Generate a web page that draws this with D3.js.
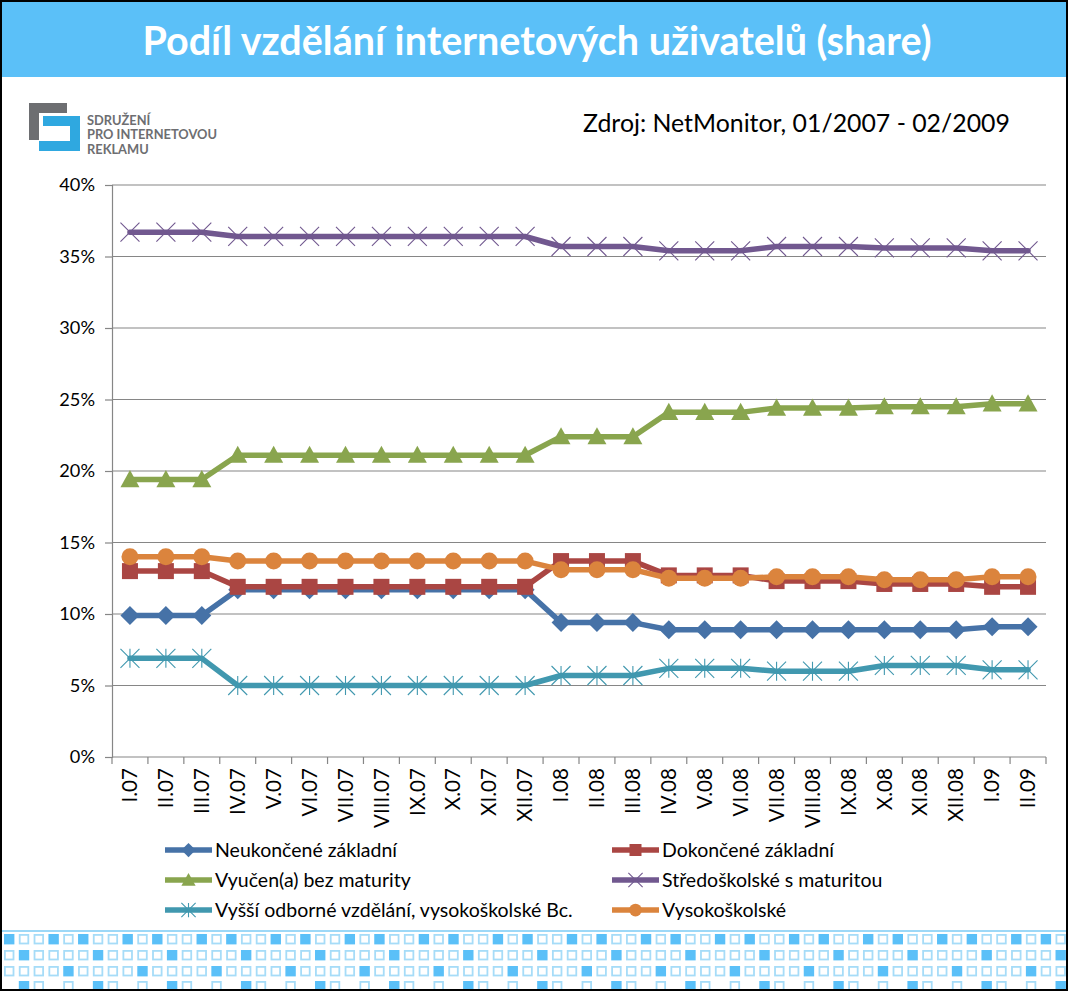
<!DOCTYPE html>
<html><head><meta charset="utf-8">
<script src="https://cdn.jsdelivr.net/npm/d3@7"></script>
<style>body{margin:0;background:#fff}svg{display:block}</style>
</head><body>
<script>
// ---------- DATA ----------
const categories = ["I.07","II.07","III.07","IV.07","V.07","VI.07","VII.07","VIII.07","IX.07","X.07","XI.07","XII.07",
  "I.08","II.08","III.08","IV.08","V.08","VI.08","VII.08","VIII.08","IX.08","X.08","XI.08","XII.08","I.09","II.09"];
const seriesNames = ["Neukončené základní","Dokončené základní","Vyučen(a) bez maturity",
  "Středoškolské s maturitou","Vyšší odborné vzdělání, vysokoškolské Bc.","Vysokoškolské"];
const neukoncene   = [9.9,9.9,9.9,11.7,11.7,11.7,11.7,11.7,11.7,11.7,11.7,11.7,9.4,9.4,9.4,8.9,8.9,8.9,8.9,8.9,8.9,8.9,8.9,8.9,9.1,9.1];
const dokoncene    = [13.0,13.0,13.0,11.9,11.9,11.9,11.9,11.9,11.9,11.9,11.9,11.9,13.7,13.7,13.7,12.7,12.7,12.7,12.3,12.3,12.3,12.1,12.1,12.1,11.9,11.9];
const vyucen       = [19.4,19.4,19.4,21.1,21.1,21.1,21.1,21.1,21.1,21.1,21.1,21.1,22.4,22.4,22.4,24.1,24.1,24.1,24.4,24.4,24.4,24.5,24.5,24.5,24.7,24.7];
const stredoskolske= [36.7,36.7,36.7,36.4,36.4,36.4,36.4,36.4,36.4,36.4,36.4,36.4,35.7,35.7,35.7,35.4,35.4,35.4,35.7,35.7,35.7,35.6,35.6,35.6,35.4,35.4];
const vyssiOdborne = [6.9,6.9,6.9,5.0,5.0,5.0,5.0,5.0,5.0,5.0,5.0,5.0,5.7,5.7,5.7,6.2,6.2,6.2,6.0,6.0,6.0,6.4,6.4,6.4,6.1,6.1];
const vysokoskolske= [14.0,14.0,14.0,13.7,13.7,13.7,13.7,13.7,13.7,13.7,13.7,13.7,13.1,13.1,13.1,12.5,12.5,12.5,12.6,12.6,12.6,12.4,12.4,12.4,12.6,12.6];
const yTicks = [0,5,10,15,20,25,30,35,40];
const titleText = "Podíl vzdělání internetových uživatelů (share)";
const sourceText = "Zdroj: NetMonitor, 01/2007 - 02/2009";
const logoLines = ["SDRUŽENÍ","PRO INTERNETOVOU","REKLAMU"];

const seriesValues = [neukoncene, dokoncene, vyucen, stredoskolske, vyssiOdborne, vysokoskolske];
const colors = ["#4672A7","#AA4643","#89A54E","#71588F","#4198AF","#DB843D"];
const markerTypes = ["diamond","square","triangle","x","star","circle"];

// ---------- SETUP ----------
const W = 1068, H = 991;
const FONT = "Lato, 'Open Sans', sans-serif";
const svg = d3.select("body").append("svg").attr("width", W).attr("height", H);
svg.append("rect").attr("width", W).attr("height", H).attr("fill", "#fff");

function fit(sel, target) {
  const w = sel.node().getComputedTextLength();
  const fs = parseFloat(sel.attr("font-size"));
  sel.attr("font-size", (fs * target / w).toFixed(2));
}

// Title bar
svg.append("rect").attr("x", 2).attr("y", 2).attr("width", 1064).attr("height", 75).attr("fill", "#5BC0F8");
const title = svg.append("text").attr("x", 537).attr("y", 55).attr("text-anchor", "middle")
  .attr("font-family", FONT).attr("font-weight", 700).attr("font-size", 36).attr("fill", "#fff").text(titleText);
fit(title, 789);

// Logo
const logo = svg.append("g");
logo.append("path").attr("d", "M29,103H67V113H39V140H29Z").attr("fill", "#6D6E71");
logo.append("path").attr("d", "M43,116H80V151H39V141H70V126H43Z").attr("fill", "#2FA8E0");
logoLines.forEach((t, i) => {
  logo.append("text").attr("x", 87).attr("y", 125 + i * 14.3).attr("font-family", FONT)
    .attr("font-weight", 700).attr("font-size", 12).attr("fill", "#6D6E71").text(t);
});
const logoRef = logo.selectAll("text").filter((d, i) => i === 1);
fit(logoRef, 130);
logo.selectAll("text").attr("font-size", logoRef.attr("font-size"));

// Source
const src = svg.append("text").attr("x", 583).attr("y", 132).attr("font-family", FONT)
  .attr("font-size", 24).attr("fill", "#000").text(sourceText);
fit(src, 427);

// ---------- CHART ----------
const x = d3.scaleBand().domain(categories).range([112, 1046]).paddingInner(0).paddingOuter(0);
const y = d3.scaleLinear().domain([0, 40]).range([757, 185]);
const cx = c => x(c) + x.bandwidth() / 2;
const gridColor = "#868686";

// gridlines
svg.append("g").selectAll("line").data(yTicks).join("line")
  .attr("x1", 112).attr("x2", 1046).attr("y1", d => y(d)).attr("y2", d => y(d))
  .attr("stroke", gridColor).attr("stroke-width", 1.2);

// y axis
const yAxis = svg.append("g").attr("transform", "translate(112,0)")
  .call(d3.axisLeft(y).tickValues(yTicks).tickSize(7).tickPadding(10).tickFormat(d => d + "%"));
yAxis.select(".domain").attr("stroke", gridColor).attr("stroke-width", 1.2);
yAxis.selectAll(".tick line").attr("stroke", gridColor).attr("stroke-width", 1.2);
yAxis.selectAll("text").attr("font-family", FONT).attr("font-size", 18).attr("fill", "#000");
const yl = yAxis.selectAll("text").filter(d => d === 40);
const yfs = (18 * 35.7 / yl.node().getComputedTextLength()).toFixed(2);
yAxis.selectAll("text").attr("font-size", yfs);

// x axis
const xAxisG = svg.append("g").attr("transform", "translate(0,757)")
  .call(d3.axisBottom(x).tickSize(0).tickPadding(0));
xAxisG.select(".domain").remove();
const bounds = categories.map(c => x(c)).concat([1046]);
svg.append("g").selectAll("line").data(bounds).join("line")
  .attr("x1", d => d).attr("x2", d => d).attr("y1", 757).attr("y2", 764)
  .attr("stroke", gridColor).attr("stroke-width", 1.2);
xAxisG.selectAll(".tick text")
  .attr("font-family", FONT).attr("font-size", 18).attr("fill", "#000")
  .attr("text-anchor", "end").attr("dy", "0.35em").attr("y", 0).attr("x", 0)
  .attr("transform", "translate(0,11) rotate(-90)");
const xl = xAxisG.selectAll(".tick text").filter(d => d === "VIII.07");
const xfs = (18 * 60 / xl.node().getComputedTextLength()).toFixed(2);
xAxisG.selectAll(".tick text").attr("font-size", xfs);

// markers
function drawMarker(g, type, color, px, py, s) {
  if (type === "diamond") {
    const r = 9.5 * s;
    g.append("path").attr("d", `M${px},${py - r}L${px + r},${py}L${px},${py + r}L${px - r},${py}Z`).attr("fill", color);
  } else if (type === "square") {
    const h = 8 * s;
    g.append("rect").attr("x", px - h).attr("y", py - h).attr("width", 2 * h).attr("height", 2 * h).attr("fill", color);
  } else if (type === "triangle") {
    const w = 9.5 * s, h = 9.5 * s;
    g.append("path").attr("d", `M${px},${py - h}L${px + w},${py + h * 0.8}L${px - w},${py + h * 0.8}Z`).attr("fill", color);
  } else if (type === "x") {
    const r = 9.5 * s;
    g.append("path").attr("d", `M${px - r},${py - r}L${px + r},${py + r}M${px - r},${py + r}L${px + r},${py - r}`)
      .attr("stroke", color).attr("stroke-width", 1.1).attr("fill", "none");
  } else if (type === "star") {
    const r = 9.5 * s;
    g.append("path").attr("d", `M${px - r},${py - r}L${px + r},${py + r}M${px - r},${py + r}L${px + r},${py - r}M${px},${py - r}L${px},${py + r}`)
      .attr("stroke", color).attr("stroke-width", 1.1).attr("fill", "none");
  } else if (type === "circle") {
    g.append("circle").attr("cx", px).attr("cy", py).attr("r", 8.5 * s).attr("fill", color);
  }
}

const line = d3.line().x((d, i) => cx(categories[i])).y(d => y(d));
const plot = svg.append("g");
seriesValues.forEach((vals, si) => {
  const g = plot.append("g");
  g.append("path").attr("d", line(vals)).attr("fill", "none").attr("stroke", colors[si])
    .attr("stroke-width", 5.5).attr("stroke-linejoin", "round").attr("stroke-linecap", "round");
  vals.forEach((v, i) => drawMarker(g, markerTypes[si], colors[si], cx(categories[i]), y(v), 1));
});

// ---------- LEGEND ----------
const legend = svg.append("g");
const legX = [165, 612], legY = [850, 880, 910];
seriesNames.forEach((name, i) => {
  const col = i % 2, row = Math.floor(i / 2);
  const lx = legX[col], ly = legY[row];
  legend.append("line").attr("x1", lx).attr("x2", lx + 47).attr("y1", ly).attr("y2", ly)
    .attr("stroke", colors[i]).attr("stroke-width", 5.5);
  drawMarker(legend, markerTypes[i], colors[i], lx + 23.5, ly, 0.75);
  legend.append("text").attr("class", "lt").attr("x", lx + 50).attr("y", ly).attr("dy", "0.35em")
    .attr("font-family", FONT).attr("font-size", 18).attr("fill", "#000").text(name);
});
const legRef = legend.selectAll(".lt").filter((d, i) => i === 0);
fit(legRef, 182);
legend.selectAll(".lt").attr("font-size", legRef.attr("font-size"));

// ---------- DECORATIVE PATTERN ----------
const patternRows = ["FOOFO", "OFOOO", "OOOOF", " FO O"];
const patG = svg.append("g");
patG.append("line").attr("x1", 2).attr("x2", 1066).attr("y1", 931).attr("y2", 931)
  .attr("stroke", "#7DCBF5").attr("stroke-width", 1.5);
const rowTops = [934, 950, 966, 981];
const nCols = 72;
patternRows.forEach((pat, r) => {
  for (let c = 0; c < nCols; c++) {
    const ch = pat[c % 5];
    if (ch === " ") continue;
    const xx = 4 + c * 14.81;
    patG.append("rect").attr("x", xx + 0.9).attr("y", rowTops[r] + 0.9).attr("width", 8.6).attr("height", 8.6)
      .attr("fill", ch === "F" ? "#5BC0F8" : "#fff")
      .attr("stroke", ch === "F" ? "#5BC0F8" : "#A6DCF8").attr("stroke-width", 1.8);
  }
});

// Frame
svg.append("rect").attr("x", 1).attr("y", 1).attr("width", W - 2).attr("height", H - 2)
  .attr("fill", "none").attr("stroke", "#000").attr("stroke-width", 2);
</script>
</body></html>
